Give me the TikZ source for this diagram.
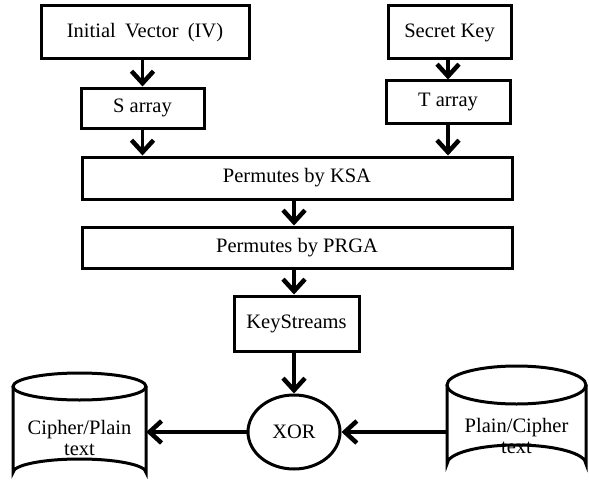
\documentclass[tikz,border=0pt]{standalone}
\usepackage{fontspec}
\setmainfont{Liberation Serif}
\usetikzlibrary{arrows.meta,shapes.geometric}
\begin{document}
\begin{tikzpicture}[x=1pt,y=-1pt,
  box/.style={draw, line width=3pt, inner sep=0pt, font=\fontsize{20.5}{23}\selectfont},
  lbl/.style={inner sep=0pt, font=\fontsize{20.5}{20.5}\selectfont, align=center},
  arr/.style={line width=3.5pt, -{Straight Barb[length=12pt,width=22pt,line width=4.5pt]}},
  cyl/.style={line width=3pt}
]
\useasboundingbox (0,0) rectangle (589,487);
\node[box, minimum width=208, minimum height=53] (IV) at (145,32.5) {Initial\hspace{0.45em}Vector\hspace{0.45em}(IV)};
\node[box, minimum width=123, minimum height=53] (SK) at (449.5,32.5) {Secret Key};
\node[box, minimum width=123, minimum height=40] (S) at (142.5,108) {S array};
\node[box, minimum width=124, minimum height=42] (T) at (448,102) {T array};
\node[box, minimum width=430, minimum height=42] (KSA) at (297,178) {Permutes by KSA};
\node[box, minimum width=430, minimum height=41] (PRGA) at (297,247.5) {Permutes by PRGA};
\node[box, minimum width=125, minimum height=55] (KS) at (296.5,323.5) {\raisebox{4pt}{KeyStreams}};
\node[box, ellipse, minimum width=92, minimum height=74] (XOR) at (294,432) {XOR};
% left cylinder
\draw[cyl] (79.5,386.5) ellipse [x radius=66.5, y radius=13.5];
\draw[cyl] (13,386.5) -- (13,472.5) arc [start angle=180, end angle=0, x radius=66.5, y radius=-13.5] -- (146,386.5);
\node[lbl, minimum width=133, minimum height=90] (CL) at (79.5,432) {};
\node[lbl] (CLt) at (79.5,438) {Cipher/Plain\\text};
% right cylinder
\draw[cyl] (516.5,385) ellipse [x radius=69.5, y radius=19];
\draw[cyl] (447,385) -- (447,464) arc [start angle=180, end angle=0, x radius=69.5, y radius=-19] -- (586,385);
\node[lbl, minimum width=139, minimum height=90] (CR) at (516.5,432) {};
\node[lbl] (CRt) at (516.5,436) {Plain/Cipher\\text};
% connectors
\draw[arr] (S.north |- IV.south) -- (S.north);
\draw[arr] (S.south) -- (S.south |- KSA.north);
\draw[arr] (T.north |- SK.south) -- (T.north);
\draw[arr] (T.south) -- (T.south |- KSA.north);
\draw[arr] (XOR.north |- KSA.south) -- (XOR.north |- PRGA.north);
\draw[arr] (XOR.north |- PRGA.south) -- (XOR.north |- KS.north);
\draw[arr] (XOR.north |- KS.south) -- (XOR.north);
\draw[arr] (XOR.west) -- (CL.east);
\draw[arr] (CR.west) -- (XOR.east);
\end{tikzpicture}
\end{document}
